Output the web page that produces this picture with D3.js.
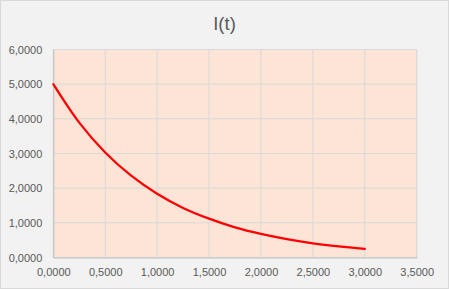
<!DOCTYPE html>
<html>
<head>
<meta charset="utf-8">
<script src="https://cdn.jsdelivr.net/npm/d3@7"></script>
<style>
  body { margin: 0; background: #fff; }
  text { font-family: "Liberation Sans", Arial, sans-serif; fill: #595959; }
</style>
</head>
<body>
<div id="chart"></div>
<script>
// values
const tValues = [0, 0.25, 0.5, 0.75, 1, 1.25, 1.5, 1.75, 2, 2.25, 2.5, 2.75, 3];
const iValues = [5.0, 3.89, 3.03, 2.36, 1.84, 1.43, 1.12, 0.87, 0.68, 0.53, 0.41, 0.32, 0.25];
const xTicks = [0, 0.5, 1, 1.5, 2, 2.5, 3, 3.5];
const yTicks = [0, 1, 2, 3, 4, 5, 6];
const title = "I(t)";

const W = 449, H = 289;
const margin = {top: 49.5, right: 32.3, bottom: 31.5, left: 53.3};
const width = W - margin.left - margin.right;
const height = H - margin.top - margin.bottom;

const fmt = d => d.toFixed(4).replace(".", ",");

const svg = d3.select("#chart")
  .append("svg")
  .attr("width", W)
  .attr("height", H);

// chart background + border
svg.append("rect")
  .attr("x", 0.5).attr("y", 0.5)
  .attr("width", W - 1).attr("height", H - 1)
  .attr("fill", "#f2f2f2")
  .attr("stroke", "#d9d9d9");

svg.append("text")
  .attr("x", W / 2)
  .attr("y", 30)
  .attr("text-anchor", "middle")
  .style("font-size", "18.5px")
  .text(title);

const g = svg.append("g")
  .attr("transform", `translate(${margin.left},${margin.top})`);

const x = d3.scaleLinear().domain([0, 3.5]).range([0, width]);
const y = d3.scaleLinear().domain([0, 6]).range([height, 0]);

// plot area
g.append("rect")
  .attr("width", width)
  .attr("height", height)
  .attr("fill", "#fce4d6")
  .attr("stroke", "#d9d9d9");

// gridlines
g.selectAll(".vgrid")
  .data(xTicks.slice(1))
  .enter().append("line")
  .attr("x1", d => x(d)).attr("x2", d => x(d))
  .attr("y1", 0).attr("y2", height)
  .attr("stroke", "#d9d9d9");

g.selectAll(".hgrid")
  .data(yTicks.slice(1))
  .enter().append("line")
  .attr("x1", 0).attr("x2", width)
  .attr("y1", d => y(d)).attr("y2", d => y(d))
  .attr("stroke", "#d9d9d9");

// axes
const xAxis = g.append("g")
  .attr("transform", `translate(0,${height})`)
  .call(d3.axisBottom(x).tickValues(xTicks).tickFormat(fmt).tickSize(0).tickPadding(11));

const yAxis = g.append("g")
  .call(d3.axisLeft(y).tickValues(yTicks).tickFormat(fmt).tickSize(0).tickPadding(11));

[xAxis, yAxis].forEach(a => {
  a.select(".domain").attr("stroke", "#bfbfbf");
  a.selectAll("text").style("font-size", "11px").attr("fill", "#595959");
});

// series
const line = d3.line()
  .x((d, i) => x(tValues[i]))
  .y(d => y(d))
  .curve(d3.curveCatmullRom);

g.append("path")
  .datum(iValues)
  .attr("d", line)
  .attr("fill", "none")
  .attr("stroke", "#ff0000")
  .attr("stroke-width", 2.25)
  .attr("stroke-linecap", "round");
</script>
</body>
</html>
